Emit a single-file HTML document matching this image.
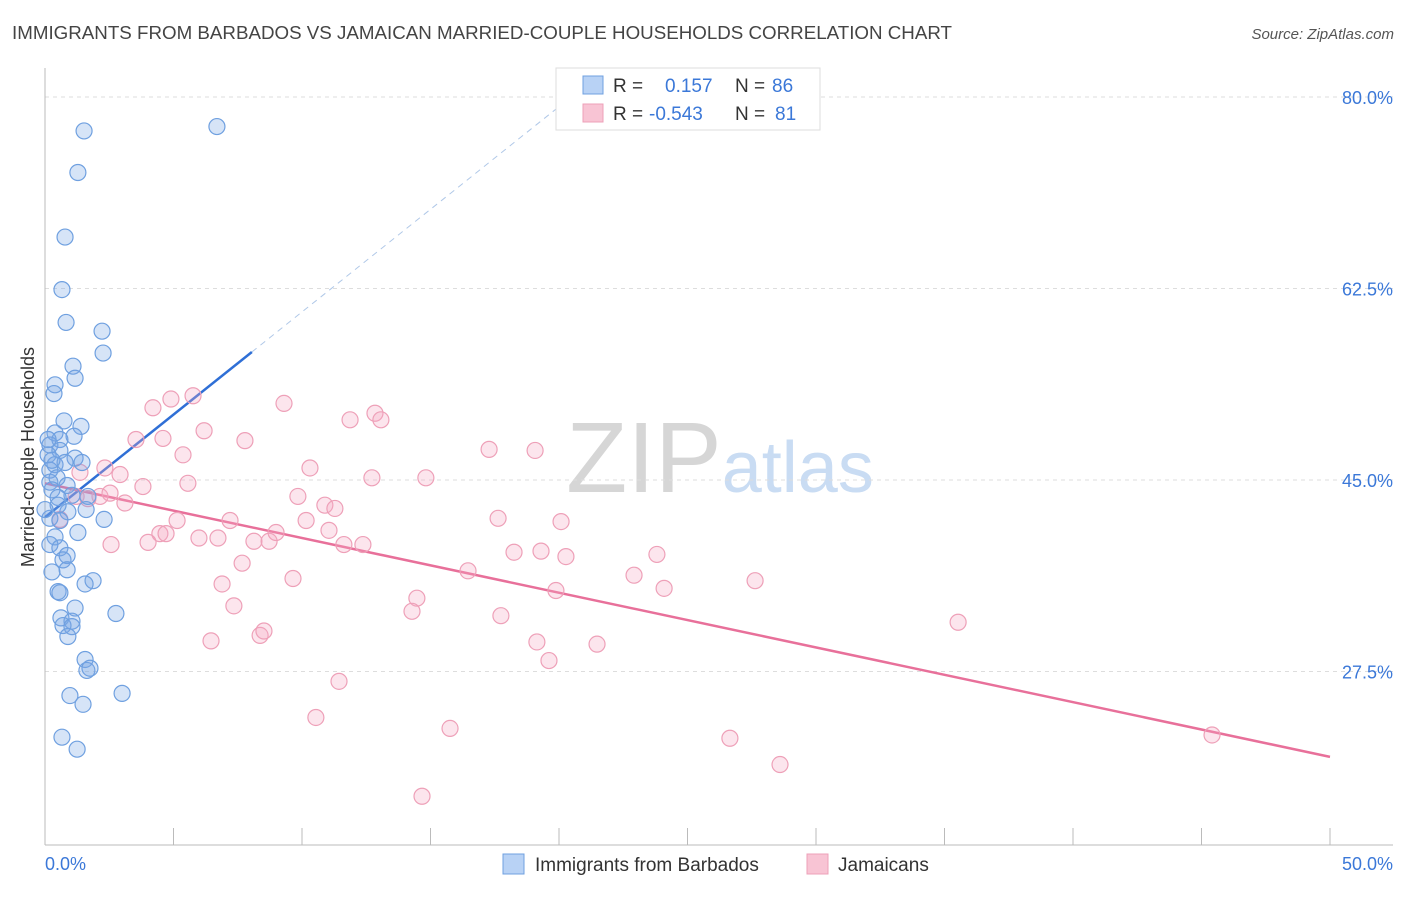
<!DOCTYPE html>
<html><head><meta charset="utf-8">
<style>
body{margin:0;background:#fff;font-family:"Liberation Sans",sans-serif;}
svg text{font-family:"Liberation Sans",sans-serif;}
</style></head>
<body>
<svg id="chart" width="1406" height="892" viewBox="0 0 1406 892" xmlns="http://www.w3.org/2000/svg">
<text x="12" y="39" font-size="18" fill="#444" textLength="940" lengthAdjust="spacingAndGlyphs">IMMIGRANTS FROM BARBADOS VS JAMAICAN MARRIED-COUPLE HOUSEHOLDS CORRELATION CHART</text>
<text x="1394" y="39" font-size="15" fill="#555" font-style="italic" text-anchor="end">Source: ZipAtlas.com</text>
<text x="720" y="492" font-size="100" text-anchor="middle" fill="#d6d6d6" font-family="Liberation Serif">ZIP<tspan fill="#c9dcf3" font-family="Liberation Sans" font-size="72">atlas</tspan></text>
<text transform="translate(34,457) rotate(-90)" font-size="18" fill="#333" text-anchor="middle">Married-couple Households</text>
<g id="grid"></g><g id="axes"></g><g id="trend"></g><g id="points"></g>
<g>
<rect x="556" y="68" width="264" height="62" fill="#fff" stroke="#ddd"/>
<rect x="583" y="76" width="20" height="18" fill="#b8d2f5" stroke="#6fa0e0"/>
<text x="613" y="92" font-size="19" fill="#333">R =</text>
<text x="665" y="92" font-size="19" fill="#3b78d8">0.157</text>
<text x="735" y="92" font-size="19" fill="#333">N =</text>
<text x="772" y="92" font-size="19" fill="#3b78d8">86</text>
<rect x="583" y="104" width="20" height="18" fill="#f8c4d4" stroke="#eea0b8"/>
<text x="613" y="120" font-size="19" fill="#333">R =</text>
<text x="649" y="120" font-size="19" fill="#3b78d8">-0.543</text>
<text x="735" y="120" font-size="19" fill="#333">N =</text>
<text x="775" y="120" font-size="19" fill="#3b78d8">81</text>
</g>
<g>
<rect x="503" y="854" width="21" height="20" fill="#b8d2f5" stroke="#6fa0e0"/>
<text x="535" y="871" font-size="19" fill="#333">Immigrants from Barbados</text>
<rect x="807" y="854" width="21" height="20" fill="#f8c4d4" stroke="#eea0b8"/>
<text x="838" y="871" font-size="19" fill="#333">Jamaicans</text>
</g>
</svg>
<script>
const blueX=[1.52,6.69,1.28,0.78,0.66,0.82,2.22,2.26,1.09,1.17,0.39,0.35,0.74,1.40,0.39,1.13,0.58,0.19,0.58,0.12,1.17,1.44,0.39,0.78,0.19,0.47,0.19,0.86,0.27,1.05,0.51,1.67,0.89,1.60,0.19,0.58,2.30,1.28,0.39,0.19,0.58,0.86,0.70,0.27,0.86,1.87,1.56,0.51,0.58,1.17,0.62,1.05,2.76,0.70,1.05,0.89,1.56,1.63,1.75,0.97,1.48,3.00,0.66,1.25,0.12,0.27,0.51,0.0];
const blueY=[76.9,77.3,73.1,67.2,62.4,59.4,58.6,56.6,55.4,54.3,53.7,52.9,50.4,49.9,49.3,49.0,48.7,48.2,47.7,47.3,47.0,46.6,46.4,46.6,45.9,45.2,44.8,44.5,44.1,43.6,43.4,43.5,42.1,42.3,41.5,41.3,41.4,40.2,39.8,39.1,38.8,38.1,37.7,36.6,36.8,35.8,35.5,34.8,34.7,33.3,32.4,32.1,32.8,31.7,31.6,30.7,28.6,27.6,27.8,25.3,24.5,25.5,21.5,20.4,48.7,46.8,42.7,42.3];
const pinkX=[1.36,2.33,2.92,3.81,1.21,3.11,2.14,2.53,1.67,0.58,4.20,4.90,5.76,3.54,4.59,5.37,5.56,6.19,7.78,9.30,10.31,11.87,12.84,13.07,12.72,14.82,17.28,19.07,9.84,10.89,11.28,10.16,11.05,11.63,12.37,5.14,4.47,4.71,4.01,2.57,5.99,6.73,7.20,8.13,8.72,8.99,7.67,6.89,7.35,9.65,6.46,8.37,8.52,14.47,14.28,16.46,17.63,20.08,18.25,19.30,20.27,19.88,22.92,23.81,24.09,27.63,17.74,19.14,19.61,21.48,35.53,11.44,10.54,15.76,26.65,28.60,14.67,45.41];
const pinkY=[45.7,46.1,45.5,44.4,43.5,42.9,43.5,43.8,43.3,41.4,51.6,52.4,52.7,48.7,48.8,47.3,44.7,49.5,48.6,52.0,46.1,50.5,51.1,50.5,45.2,45.2,47.8,47.7,43.5,42.7,42.4,41.3,40.4,39.1,39.1,41.3,40.1,40.1,39.3,39.1,39.7,39.7,41.3,39.4,39.4,40.2,37.4,35.5,33.5,36.0,30.3,30.8,31.2,34.2,33.0,36.7,41.5,41.2,38.4,38.5,38.0,34.9,36.3,38.2,35.1,35.8,32.6,30.2,28.5,30.0,32.0,26.6,23.3,22.3,21.4,19.0,16.1,21.7];
const yTicks=[80,62.5,45,27.5];
const xTickLabels=["0.0%","50.0%"];
const blueTrend=[0,41.6,8.05,56.7];
const pinkTrend=[0,44.7,50,19.7];

const NS="http://www.w3.org/2000/svg";
const sx=v=>45+v*25.7;
const sy=v=>97+(80-v)*10.943;
function mk(parent,tag,attrs){const e=document.createElementNS(NS,tag);for(const k in attrs)e.setAttribute(k,attrs[k]);document.getElementById(parent).appendChild(e);return e;}

yTicks.forEach(t=>{
  const l=mk('grid','line',{x1:45,x2:1393,y1:sy(t),y2:sy(t),stroke:'#ddd','stroke-dasharray':'4 4'});
  
  
  const tx=mk('grid','text',{x:1393,y:sy(t)+7,'font-size':18,fill:'#3b78d8','text-anchor':'end'});
  tx.textContent=t.toFixed(1)+'%';
  
  
});
const ya=mk('axes','line',{x1:45,x2:45,y1:68,y2:845,stroke:'#bbb'});


const xa=mk('axes','line',{x1:45,x2:1393,y1:845,y2:845,stroke:'#bbb'});


for(let i=0;i<=10;i++){
  const t=mk('axes','line',{x1:sx(i*5),x2:sx(i*5),y1:828,y2:845,stroke:'#bbb'});
  
  
}
[[0,'start',xTickLabels[0]],[50,'end',xTickLabels[1]]].forEach(([v,a,s])=>{
  const t=mk('axes','text',{x:v===0?45:1393,y:870,'font-size':18,fill:'#3b78d8','text-anchor':a});
  t.textContent=s;
  
  
});
const bt=mk('trend','line',{x1:sx(blueTrend[0]),y1:sy(blueTrend[1]),x2:sx(blueTrend[2]),y2:sy(blueTrend[3]),stroke:'#2f6fd6','stroke-width':2.5});


const slope=(blueTrend[3]-blueTrend[1])/(blueTrend[2]-blueTrend[0]);
const xEnd=blueTrend[2]+(81-blueTrend[3])/slope;
const bd=mk('trend','line',{x1:sx(blueTrend[2]),y1:sy(blueTrend[3]),x2:sx(xEnd),y2:sy(81),stroke:'#b0c8e8','stroke-width':1,'stroke-dasharray':'6 5'});


const pt=mk('trend','line',{x1:sx(pinkTrend[0]),y1:sy(pinkTrend[1]),x2:sx(pinkTrend[2]),y2:sy(pinkTrend[3]),stroke:'#e8709a','stroke-width':2.5});


pinkX.forEach((x,i)=>{
  const c=mk('points','circle',{cx:sx(x),cy:sy(pinkY[i]),r:8,fill:'rgba(244,170,195,0.3)',stroke:'#eea0b8','stroke-width':1.2});
  
  
});
blueX.forEach((x,i)=>{
  const c=mk('points','circle',{cx:sx(x),cy:sy(blueY[i]),r:8,fill:'rgba(120,165,230,0.3)',stroke:'#6fa0e0','stroke-width':1.2});
  
  
});
</script>
</body></html>
